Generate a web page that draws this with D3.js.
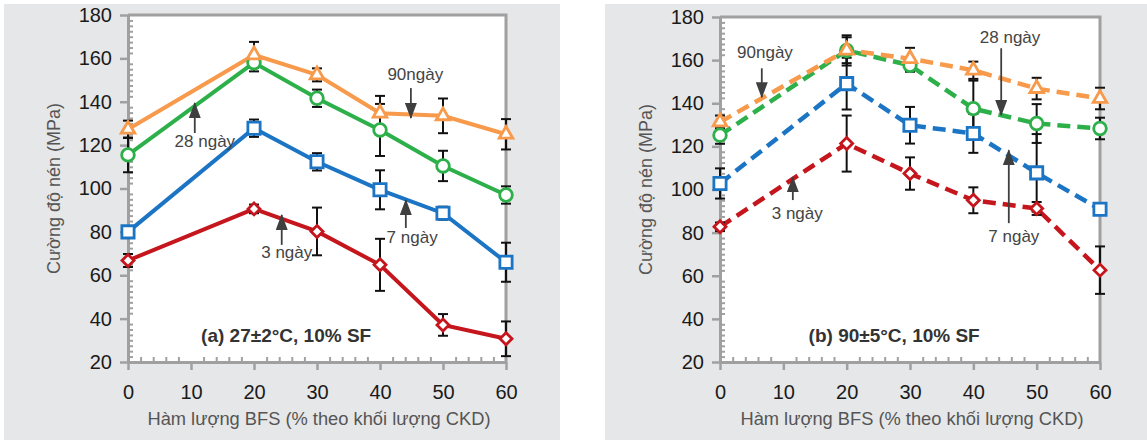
<!DOCTYPE html>
<html>
<head>
<meta charset='UTF-8'>
<title>Cuong do nen</title>
<script src='https://cdn.jsdelivr.net/npm/d3@7/dist/d3.min.js'></script>
<style>
  body {margin:0; background:#fff;}
  text {font-family:'Liberation Sans', Arial, sans-serif;}
</style>
</head>
<body>
<div id='chart'></div>
<script>
/* Data */
var bfs = [0, 20, 30, 40, 50, 60];
var xTicks = [0, 10, 20, 30, 40, 50, 60];
var yTicks = [20, 40, 60, 80, 100, 120, 140, 160, 180];
var seriesNames = ['3 ngày', '7 ngày', '28 ngày', '90 ngày'];

// (a) 27±2°C
var a3 = [66.8, 90.6, 80.2, 64.8, 37.1, 30.7];
var a7 = [80, 127.8, 112.3, 99.4, 88.6, 66];
var a28 = [115.5, 158, 141.6, 127, 110.4, 97];
var a90 = [127.3, 161.6, 152.4, 134.7, 133.5, 125];
var a3Err = [3, 2, 11, 12, 5, 8];
var a7Err = [2, 4, 4, 9, 3, 9];
var a28Err = [8, 4, 4, 12, 7, 4];
var a90Err = [4, 6, 3, 8, 8, 7];

// (b) 90±5°C
var b3 = [82.7, 121.3, 107.4, 95, 91.2, 62.6];
var b7 = [102.8, 149.1, 129.8, 126, 107.7, 90.8];
var b28 = [125.2, 164.5, 157.6, 137.5, 130.6, 128.3];
var b90 = [131.3, 164.6, 160.7, 155.3, 146.8, 142.2];
var b3Err = [2, 13, 7.5, 6, 3, 11];
var b7Err = [7, 12, 8.5, 9, 18, 2];
var b28Err = [4, 7, 3, 13, 9, 5];
var b90Err = [3, 6, 5, 4, 5, 5];

// annotations: [text, textX, textY, arrowX, arrowFromY, arrowToY] in data units
var aNotes = [
  ['90ngày', 45.6, 150, 44.9, 146.3, 132.5],
  ['28 ngày', 12.2, 119.1, 10.6, 125.6, 139.4],
  ['7 ngày', 45.1, 74.9, 44.1, 81.8, 94.7],
  ['3 ngày', 25.2, 68, 24.4, 74, 87.8]
];
var bNotes = [
  ['90ngày', 7.1, 160.9, 6.6, 156.2, 142.8],
  ['28 ngày', 45.8, 167.8, 44.4, 165.5, 134.5],
  ['7 ngày', 46.4, 75.6, 45.6, 84.4, 118.2],
  ['3 ngày', 12.2, 86.2, 11.5, 95.1, 105.7]
];

var colors = ['#C4161C', '#1C75C4', '#2DB04A', '#F79A4C'];
var symbols = ['diamond', 'square', 'circle', 'triangle'];

var width = 1147;
var height = 441;

var svg = d3.select('#chart').append('svg')
  .attr('width', width)
  .attr('height', height);

svg.append('defs').append('marker')
  .attr('id', 'head')
  .attr('viewBox', '0 0 16 12')
  .attr('refX', 15).attr('refY', 6)
  .attr('markerWidth', 16).attr('markerHeight', 12)
  .attr('markerUnits', 'userSpaceOnUse')
  .attr('orient', 'auto')
  .append('path')
  .attr('d', 'M0,0 L16,6 L0,12 Z')
  .attr('fill', '#3f3f3f');

function symbolPath(type) {
  if (type === 'diamond') return d3.symbol().type(d3.symbolSquare).size(72)();
  if (type === 'square') return d3.symbol().type(d3.symbolSquare).size(150)();
  if (type === 'circle') return d3.symbol().type(d3.symbolCircle).size(125)();
  return d3.symbol().type(d3.symbolTriangle).size(80)();
}

function drawPanel(opt) {
  var g = svg.append('g');

  g.append('rect')
    .attr('x', opt.bg[0]).attr('y', opt.bg[1])
    .attr('width', opt.bg[2]).attr('height', opt.bg[3])
    .attr('fill', '#E6E7E8');

  var x = d3.scaleLinear().domain([0, 60]).range([opt.left, opt.right]);
  var y = d3.scaleLinear().domain([20, 180]).range([opt.bottom, opt.top]);

  g.append('rect')
    .attr('x', x(0)).attr('y', y(180))
    .attr('width', x(60) - x(0)).attr('height', y(20) - y(180))
    .attr('fill', '#fff');

  // frame top + right
  g.append('path')
    .attr('d', 'M' + x(0) + ',' + y(180) + 'H' + x(60) + 'V' + y(20))
    .attr('fill', 'none').attr('stroke', '#A0A0A0').attr('stroke-width', 3);

  // minor ticks (inward)
  var yMinor = d3.range(20, 180.01, 2.5).filter(function(v) { return v % 20 !== 0; });
  var xMinor = d3.range(0, 60.01, 2).filter(function(v) { return v % 10 !== 0; });

  g.append('g')
    .attr('transform', 'translate(' + x(0) + ',0)')
    .call(d3.axisRight(y).tickValues(yMinor).tickSize(5).tickFormat(''))
    .call(function(s) { s.select('.domain').remove(); })
    .selectAll('line').attr('stroke', '#A0A0A0').attr('stroke-width', 2);

  g.append('g')
    .attr('transform', 'translate(0,' + y(20) + ')')
    .call(d3.axisTop(x).tickValues(xMinor).tickSize(5).tickFormat(''))
    .call(function(s) { s.select('.domain').remove(); })
    .selectAll('line').attr('stroke', '#A0A0A0').attr('stroke-width', 2);

  // major axes
  var yAxis = g.append('g')
    .attr('transform', 'translate(' + x(0) + ',0)')
    .call(d3.axisLeft(y).tickValues(yTicks).tickSize(8).tickPadding(8).tickSizeOuter(0));
  var xAxis = g.append('g')
    .attr('transform', 'translate(0,' + y(20) + ')')
    .call(d3.axisBottom(x).tickValues(xTicks).tickSize(8).tickPadding(15).tickSizeOuter(0));

  [xAxis, yAxis].forEach(function(ax) {
    ax.select('.domain').attr('stroke', '#A0A0A0').attr('stroke-width', 3);
    ax.selectAll('.tick line').attr('stroke', '#A0A0A0').attr('stroke-width', 2.5);
    ax.selectAll('.tick text')
      .attr('fill', '#1a1a1a')
      .style('font-size', '20px')
      .style('font-family', "'Liberation Sans', Arial, sans-serif");
  });

  // axis titles
  g.append('text')
    .attr('x', (x(0) + x(60)) / 2 + 2)
    .attr('y', 425)
    .attr('text-anchor', 'middle')
    .attr('fill', '#555')
    .style('font-size', '18.3px')
    .text('Hàm lượng BFS (% theo khối lượng CKD)');

  g.append('text')
    .attr('transform', 'translate(' + (x(0) - 68) + ',' + y(100) + ') rotate(-90)')
    .attr('text-anchor', 'middle')
    .attr('fill', '#555')
    .style('font-size', '18px')
    .text('Cường độ nén (MPa)');

  var line = d3.line()
    .x(function(d) { return x(d.x); })
    .y(function(d) { return y(d.y); });

  var series = opt.values.map(function(vals, i) {
    return {
      name: seriesNames[i],
      color: colors[i],
      symbol: symbols[i],
      points: vals.map(function(v, j) { return {x: bfs[j], y: v, e: opt.errs[i][j]}; })
    };
  });

  g.selectAll('.line')
    .data(series).enter()
    .append('path')
    .attr('class', 'line')
    .attr('d', function(d) { return line(d.points); })
    .attr('fill', 'none')
    .attr('stroke', function(d) { return d.color; })
    .attr('stroke-width', opt.dashed ? 4.5 : 4)
    .attr('stroke-dasharray', opt.dashed ? '13,7' : null);

  // error bars
  var eb = g.selectAll('.err')
    .data(series).enter()
    .append('g')
    .selectAll('g')
    .data(function(d) { return d.points; }).enter()
    .append('g');
  eb.append('line')
    .attr('x1', function(d) { return x(d.x); })
    .attr('x2', function(d) { return x(d.x); })
    .attr('y1', function(d) { return y(d.y - d.e); })
    .attr('y2', function(d) { return y(d.y + d.e); });
  eb.append('line')
    .attr('x1', function(d) { return x(d.x) - 5; })
    .attr('x2', function(d) { return x(d.x) + 5; })
    .attr('y1', function(d) { return y(d.y + d.e); })
    .attr('y2', function(d) { return y(d.y + d.e); });
  eb.append('line')
    .attr('x1', function(d) { return x(d.x) - 5; })
    .attr('x2', function(d) { return x(d.x) + 5; })
    .attr('y1', function(d) { return y(d.y - d.e); })
    .attr('y2', function(d) { return y(d.y - d.e); });
  eb.selectAll('line').attr('stroke', '#111').attr('stroke-width', 2);

  // markers
  g.selectAll('.mk')
    .data(series).enter()
    .append('g')
    .each(function(s) {
      d3.select(this).selectAll('path')
        .data(s.points).enter()
        .append('path')
        .attr('d', symbolPath(s.symbol))
        .attr('transform', function(d) {
          return 'translate(' + x(d.x) + ',' + y(d.y) + ')' + (s.symbol === 'diamond' ? ' rotate(45)' : '');
        })
        .attr('fill', '#fff')
        .attr('stroke', s.color)
        .attr('stroke-width', 2.8);
    });

  // annotations
  opt.notes.forEach(function(n) {
    g.append('line')
      .attr('x1', x(n[3])).attr('x2', x(n[3]))
      .attr('y1', y(n[4])).attr('y2', y(n[5]))
      .attr('stroke', '#3f3f3f')
      .attr('stroke-width', 1.8)
      .attr('marker-end', 'url(#head)');
    g.append('text')
      .attr('x', x(n[1])).attr('y', y(n[2]))
      .attr('text-anchor', 'middle')
      .attr('fill', '#444')
      .style('font-size', '17px')
      .text(n[0]);
  });

  g.append('text')
    .attr('x', x(opt.label[1])).attr('y', y(opt.label[2]))
    .attr('text-anchor', 'middle')
    .attr('fill', '#333')
    .style('font-size', '19px')
    .style('font-weight', 'bold')
    .text(opt.label[0]);
}

drawPanel({
  bg: [4, 4, 556, 436],
  left: 128, right: 506, top: 15, bottom: 362,
  values: [a3, a7, a28, a90],
  errs: [a3Err, a7Err, a28Err, a90Err],
  dashed: false,
  notes: aNotes,
  label: ['(a) 27±2°C, 10% SF', 25.1, 29.2]
});

drawPanel({
  bg: [605, 4, 542, 436],
  left: 720, right: 1100, top: 17, bottom: 362,
  values: [b3, b7, b28, b90],
  errs: [b3Err, b7Err, b28Err, b90Err],
  dashed: true,
  notes: bNotes,
  label: ['(b) 90±5°C, 10% SF', 27.5, 29.2]
});
</script>
</body>
</html>
